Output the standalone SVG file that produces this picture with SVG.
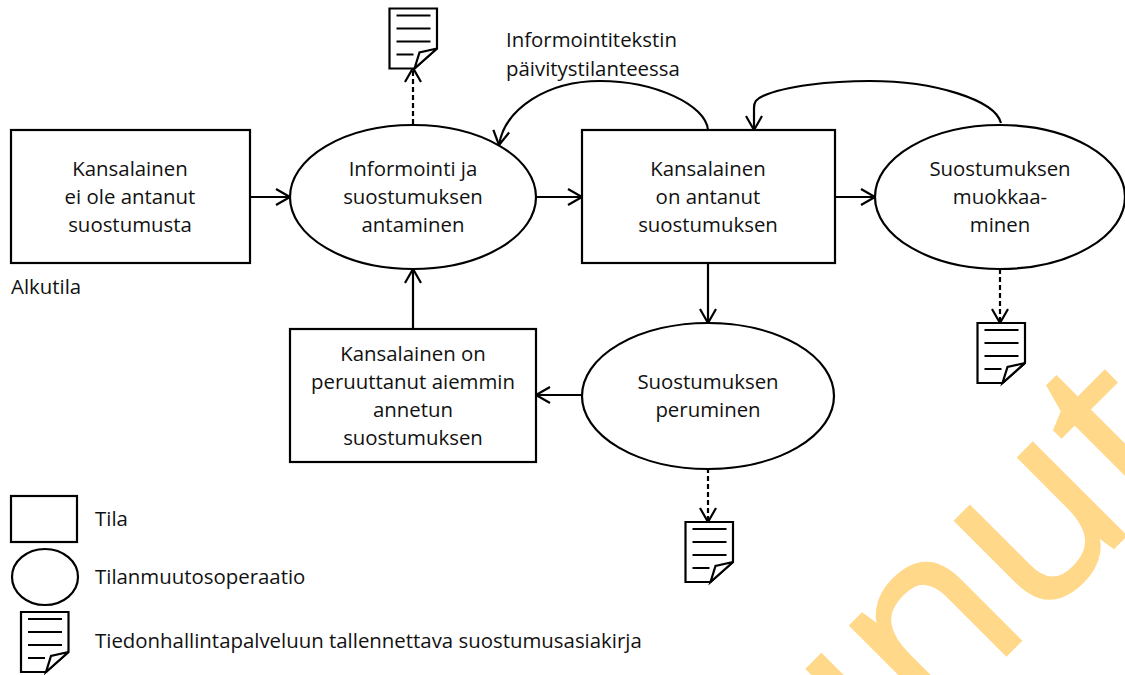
<svg xmlns="http://www.w3.org/2000/svg" width="1125" height="675" viewBox="0 0 1125 675">
<defs>
<style>
.s{fill:#fff;stroke:#000;stroke-width:2.2}
.c{fill:none;stroke:#000;stroke-width:2.2}
.d{fill:none;stroke:#000;stroke-width:2.2;stroke-dasharray:5 3}
.t{font-family:"Open Sans","Liberation Sans",sans-serif;font-size:20.4px;fill:#111}
.m{text-anchor:middle}
.w{font-family:"Open Sans",sans-serif;font-size:244px;fill:#FFD88A;stroke:#FFD88A;stroke-width:3}
.l{fill:none;stroke:#000;stroke-width:2}
</style>
<marker id="a" markerUnits="userSpaceOnUse" markerWidth="20" markerHeight="20" refX="16" refY="9" orient="auto"><path d="M2 1L16 9L2 17" fill="none" stroke="#000" stroke-width="2.2"/></marker>
<g id="doc"><path class="s" d="M0 0H47.5V40L25 60H0Z"/><path class="l" d="M7 7H41M7 20H41M7 33H41M7 46H24"/><path class="s" d="M47.5 40L30 44L25 60Z"/></g>
</defs>
<rect width="1125" height="675" fill="#fff"/>
<text class="w" transform="translate(885 776) rotate(-45)">ınut</text>
<g id="connectors">
<path class="c" marker-end="url(#a)" d="M250 197H290"/>
<path class="c" marker-end="url(#a)" d="M536 197H582"/>
<path class="c" marker-end="url(#a)" d="M835 197H875"/>
<path class="c" marker-end="url(#a)" d="M708 263V323"/>
<path class="c" marker-end="url(#a)" d="M582 395H536"/>
<path class="c" marker-end="url(#a)" d="M413 329V269"/>
<path class="d" marker-end="url(#a)" d="M413 124V68"/>
<path class="d" marker-end="url(#a)" d="M1000 269V323"/>
<path class="d" marker-end="url(#a)" d="M708 468V522"/>
<path class="c" marker-end="url(#a)" d="M708 130C706 105 655 81 600 81C548 81 505 108 499 145"/>
<path class="c" marker-end="url(#a)" d="M1001 123C995 100 935 81 870 81C830 81 785 86 763 96C756 99 754 102 754 108V130"/>
</g>
<g id="n1"><rect class="s" x="11" y="130" width="239" height="133"/><text class="t m" x="130" y="176">Kansalainen</text><text class="t m" x="130" y="204">ei ole antanut</text><text class="t m" x="130" y="232">suostumusta</text></g>
<g id="n2"><ellipse class="s" cx="413" cy="197" rx="123" ry="72"/><text class="t m" x="413" y="176">Informointi ja</text><text class="t m" x="413" y="204">suostumuksen</text><text class="t m" x="413" y="232">antaminen</text></g>
<g id="n3"><rect class="s" x="582" y="130" width="253" height="133"/><text class="t m" x="708" y="176">Kansalainen</text><text class="t m" x="708" y="204">on antanut</text><text class="t m" x="708" y="232">suostumuksen</text></g>
<g id="n4"><ellipse class="s" cx="1000" cy="197" rx="125" ry="72"/><text class="t m" x="1000" y="176">Suostumuksen</text><text class="t m" x="1000" y="204">muokkaa-</text><text class="t m" x="1000" y="232">minen</text></g>
<g id="n5"><ellipse class="s" cx="708" cy="396" rx="126" ry="73"/><text class="t m" x="708" y="389">Suostumuksen</text><text class="t m" x="708" y="417">peruminen</text></g>
<g id="n6"><rect class="s" x="290" y="329" width="246" height="133"/><text class="t m" x="413" y="361">Kansalainen on</text><text class="t m" x="413" y="389">peruuttanut aiemmin</text><text class="t m" x="413" y="417">annetun</text><text class="t m" x="413" y="445">suostumuksen</text></g>
<g id="doc1"><use href="#doc" x="389.5" y="8.5"/></g>
<g id="doc2"><use href="#doc" x="977.5" y="323"/></g>
<g id="doc3"><use href="#doc" x="685.5" y="522"/></g>
<text class="t" x="506" y="47">Informointitekstin</text>
<text class="t" x="506" y="76">päivitystilanteessa</text>
<text class="t" x="11" y="294">Alkutila</text>
<g id="legend-tila"><rect class="s" x="11" y="496" width="66" height="46"/><text class="t" x="95" y="526">Tila</text></g>
<g id="legend-op"><ellipse class="s" cx="45" cy="577" rx="33" ry="28"/><text class="t" x="95" y="584">Tilanmuutosoperaatio</text></g>
<g id="legend-doc"><use href="#doc" x="21" y="612"/><text class="t" x="95" y="648">Tiedonhallintapalveluun tallennettava suostumusasiakirja</text></g>
</svg>
